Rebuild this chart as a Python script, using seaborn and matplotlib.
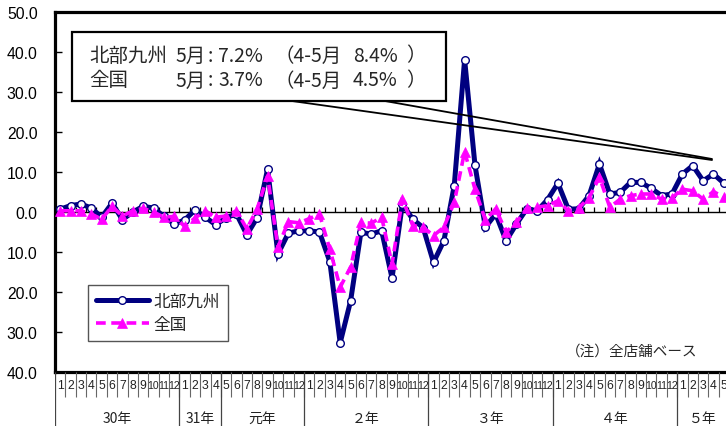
import numpy as np
import pandas as pd
import matplotlib
matplotlib.use("Agg")
import matplotlib.pyplot as plt
import seaborn as sns
from matplotlib.ticker import FuncFormatter, MultipleLocator
from matplotlib.lines import Line2D
from matplotlib.patches import Rectangle

# ---------------- data ----------------
months = (list(range(1, 13)) + list(range(1, 5)) + list(range(5, 13))
          + list(range(1, 13)) * 3 + list(range(1, 6)))
years = ["30年", "31年", "元年", "２年", "３年", "４年", "５年"]
year_counts = [12, 4, 8, 12, 12, 12, 5]

kyushu = [0.7, 1.6, 2.0, 1.0, -1.3, 2.2, -1.9, 0.0, 1.4, 1.0, -1.1, -3.0,
          -2.0, 0.5, -1.3, -3.2,
          -1.4, -0.5, -5.7, -1.4, 10.7, -10.5, -5.3, -4.7,
          -4.7, -5.0, -12.4, -32.7, -22.3, -5.1, -5.5, -4.7, -16.5, 2.0, -1.8, -3.9,
          -12.6, -7.2, 6.6, 38.1, 11.7, -3.8, -0.5, -7.2, -3.0, 0.8, 0.3, 3.1,
          7.2, 0.7, 0.8, 4.1, 12.0, 4.5, 4.9, 7.4, 7.4, 5.9, 4.1, 4.5,
          9.5, 11.6, 7.8, 9.5, 7.2]
zenkoku = [0.3, 0.3, 0.3, -0.5, -1.8, 1.4, -1.0, 0.3, 0.9, 0.0, -1.3, -1.1,
           -3.6, -1.5, 0.3, -1.3,
           -1.0, 0.3, -4.2, 0.8, 9.0, -8.8, -2.4, -2.7,
           -1.7, -0.5, -9.3, -18.8, -13.8, -2.6, -2.8, -1.3, -13.0, 3.3, -3.4, -3.8,
           -5.9, -3.8, 2.4, 15.1, 5.7, -2.0, 0.8, -5.0, -2.6, 0.9, 1.2, 1.6,
           2.8, 0.3, 1.0, 3.6, 8.7, 1.2, 3.2, 4.1, 4.5, 4.5, 3.2, 3.6,
           5.7, 5.3, 3.2, 5.1, 3.7]

series_names = ["北部九州", "全国"]
box_labels = ["北部九州", "全国"]
box_month = "5月"
box_month_vals = ["7.2%", "3.7%"]
box_range = "（4-5月"
box_range_vals = ["8.4%", "4.5%"]
note_text = "（注）全店舗ベース"

# ---------------- style ----------------
sns.set_style("white")
plt.rcParams["font.family"] = ["Liberation Sans", "Noto Sans CJK JP", "DejaVu Sans"]
plt.rcParams["lines.scale_dashes"] = False
JP = ["Noto Sans CJK JP", "DejaVu Sans"]

navy = "#000080"
magenta = "#FF00FF"

W, H = 726, 427
fig = plt.figure(figsize=(W / 100, H / 100), dpi=100)
fig.patch.set_facecolor("white")


def fx(px):
    return px / W


def fy(py):
    return 1 - py / H


n = len(kyushu)
L, R, T, B = 55, 55 + n * 10.37, 13, 373
ax = fig.add_axes([fx(L), fy(B), (R - L) / W, (B - T) / H])

df = pd.DataFrame({"idx": np.arange(n), series_names[0]: kyushu, series_names[1]: zenkoku})

sns.lineplot(data=df, x="idx", y=series_names[0], ax=ax, color=navy, linewidth=3.6,
             marker="o", markersize=5.5, markerfacecolor="white", markeredgecolor=navy,
             markeredgewidth=1.0, label=series_names[0], zorder=3)
sns.lineplot(data=df, x="idx", y=series_names[1], ax=ax, color=magenta, linewidth=2.6,
             marker="^", markersize=6.8, markerfacecolor=magenta, markeredgecolor=magenta,
             markeredgewidth=0.5, label=series_names[1], zorder=4)
lines = ax.get_lines()
lines[0].set_solid_joinstyle("miter")
lines[1].set_dashes((7, 4))

ax.axhline(0, color="black", lw=1.0, zorder=2)
ax.vlines(np.arange(n) + 0.5, 0, 1.2, color="black", lw=0.9, zorder=2)

ax.set_xlim(-0.5, n - 0.5)
ax.set_ylim(-40, 50)
ax.set_xticks([])
ax.set_xlabel("")
ax.set_ylabel("")
ax.yaxis.set_major_locator(MultipleLocator(10))
ax.yaxis.set_major_formatter(FuncFormatter(lambda v, p: f"{abs(v):.1f}"))
ax.tick_params(axis="y", direction="in", length=5, width=1, pad=12.5,
               labelsize=11.3, left=True, colors="black")
for s in ["left", "top", "bottom", "right"]:
    ax.spines[s].set_visible(True)
    ax.spines[s].set_color("black")
    ax.spines[s].set_linewidth(2.3)

leg = ax.legend(loc="upper left", bbox_to_anchor=((88 - L) / (R - L), (B - 286) / (B - T)),
                frameon=True, fancybox=False, edgecolor="#555555", framealpha=1,
                borderaxespad=0, handlelength=3.2, handletextpad=0.3, borderpad=0.45,
                labelspacing=0.4, prop={"family": JP, "size": 12})
leg.get_frame().set_linewidth(1.0)

ax.text(0.855, 0.06, note_text, transform=ax.transAxes, ha="center", va="center",
        fontsize=10.5, family=JP)

# ---------------- lower table ----------------
ax2 = fig.add_axes([fx(L), 0, (R - L) / W, (H - B) / H])
ax2.set_xlim(-0.5, n - 0.5)
ax2.set_ylim(0, H - B)
ax2.axis("off")
ax2.vlines(np.arange(n) + 0.5, 29, H - B, color="#666666", lw=0.8)
bounds = np.concatenate([[0], np.cumsum(year_counts)]) - 0.5
ax2.vlines(bounds, 0, H - B, color="#444444", lw=0.9)
for i, m in enumerate(months):
    ax2.text(i, 41, str(m), ha="center", va="center",
             fontsize=8.8 if m < 10 else 7.6, color="#222222")
for k, yl in enumerate(years):
    c = (bounds[k] + bounds[k + 1]) / 2
    ax2.text(c, 8, yl, ha="center", va="center", fontsize=10, family=JP, color="#222222")

# ---------------- callout ----------------
fig.add_artist(Line2D([fx(292), fx(712)], [fy(102), fy(161)], color="black", lw=1.3,
                      transform=fig.transFigure, zorder=5))
fig.add_artist(Line2D([fx(385), fx(712)], [fy(102), fy(160)], color="black", lw=1.3,
                      transform=fig.transFigure, zorder=5))
fig.add_artist(Rectangle((fx(72), fy(102)), (446 - 72) / W, (102 - 33) / H,
                         transform=fig.transFigure, facecolor="white", edgecolor="black",
                         lw=1.6, zorder=6))
fs_box = 14
for j in range(len(box_labels)):
    yy = fy(56 + 25 * j)
    parts = [(89, box_labels[j]), (175, box_month), (208, ":"), (218, box_month_vals[j]),
             (275, box_range), (353, box_range_vals[j]), (406, "）")]
    for px, s in parts:
        fig.text(fx(px), yy, s, ha="left", va="center", fontsize=fs_box, family=JP, zorder=7)

fig.savefig("out.png", dpi=100)
